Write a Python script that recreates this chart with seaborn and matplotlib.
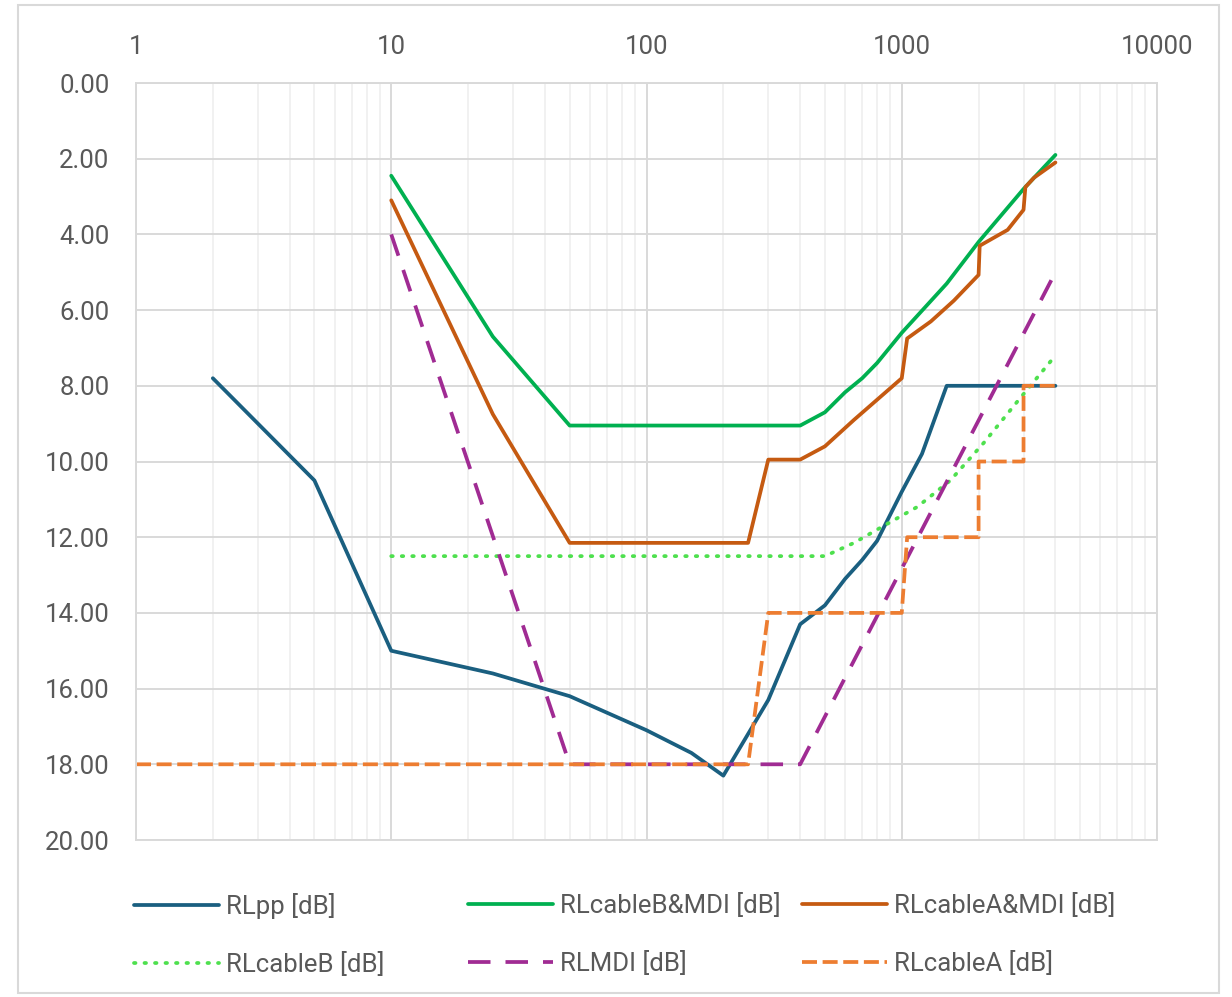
"""Return loss limits vs frequency (log x, inverted y), Excel-style."""

import matplotlib
matplotlib.use("Agg")
import matplotlib.pyplot as plt
import matplotlib.ticker as mticker
from matplotlib.patches import Rectangle
import pandas as pd
import seaborn as sns

sns.set_theme(style="white")
plt.rcParams["font.family"] = ["Roboto", "DejaVu Sans"]

# --- data ------------------------------------------------------------------
rlpp_x = [2, 5, 10, 25, 50, 100, 150, 200, 300, 400, 500, 600, 700, 800, 1000, 1200, 1500, 2000, 3000, 4000]
rlpp_y = [7.8, 10.5, 15.0, 15.6, 16.2, 17.1, 17.7, 18.3, 16.3, 14.3, 13.8, 13.1, 12.6, 12.1, 10.8, 9.8, 8.0, 8.0, 8.0, 8.0]

cbmdi_x = [10, 25, 50, 400, 500, 600, 700, 800, 1000, 1500, 2000, 3000, 4000]
cbmdi_y = [2.45, 6.7, 9.05, 9.05, 8.7, 8.17, 7.8, 7.4, 6.6, 5.3, 4.2, 2.8, 1.9]

camdi_x = [10, 25, 50, 250, 300, 400, 500, 650, 800, 1000, 1050, 1300, 1600, 2000, 2020, 2600, 3000, 3050, 3300, 4000]
camdi_y = [3.1, 8.75, 12.15, 12.15, 9.95, 9.95, 9.6, 8.9, 8.37, 7.8, 6.75, 6.3, 5.75, 5.07, 4.3, 3.88, 3.35, 2.75, 2.5, 2.1]

cb_x = [10, 500, 650, 850, 1150, 1550, 2100, 2850, 4000]
cb_y = [12.5, 12.5, 12.15, 11.7, 11.2, 10.5, 9.5, 8.4, 7.2]

mdi_x = [10, 50, 400, 4000]
mdi_y = [4.0, 18.0, 18.0, 5.0]

ca_x = [1, 250, 300, 1000, 1050, 2000, 2000, 3000, 3000, 4000]
ca_y = [18, 18, 14, 14, 12, 12, 10, 10, 8, 8]

series = [
    ("RLpp [dB]", rlpp_x, rlpp_y, "#1a5f80", "-"),
    ("RLcableB&MDI [dB]", cbmdi_x, cbmdi_y, "#00b050", "-"),
    ("RLcableA&MDI [dB]", camdi_x, camdi_y, "#c55a11", "-"),
    ("RLcableB [dB]", cb_x, cb_y, "#4ee04e", (0, (0.4, 2.4))),
    ("RLMDI [dB]", mdi_x, mdi_y, "#a02b93", (0, (6, 4))),
    ("RLcableA [dB]", ca_x, ca_y, "#ed7d31", (0, (4, 1.5))),
]

text_c = "#595959"
grid_c = "#d9d9d9"
fs = 18.5

fig = plt.figure(figsize=(12.32, 9.97), dpi=100)
ax = fig.add_axes([136 / 1232, 1 - 840 / 997, (1157 - 136) / 1232, (840 - 83) / 997])

for name, xs, ys, col, ls in series:
    df = pd.DataFrame({"f": xs, "rl": ys})
    sns.lineplot(data=df, x="f", y="rl", ax=ax, sort=False, estimator=None,
                 color=col, linewidth=2.7, linestyle=ls, label=name,
                 dash_capstyle="round" if name == "RLcableB [dB]" else "butt")

ax.set_xscale("log")
ax.set_xlim(1, 10000)
ax.set_ylim(20, 0)
ax.set_xlabel("")
ax.set_ylabel("")

ax.xaxis.tick_top()
ax.xaxis.set_major_locator(mticker.LogLocator(base=10, numticks=10))
ax.xaxis.set_major_formatter(mticker.FuncFormatter(lambda v, _: f"{v:g}"))
ax.xaxis.set_minor_locator(mticker.LogLocator(base=10, subs=range(2, 10), numticks=20))
ax.xaxis.set_minor_formatter(mticker.NullFormatter())
ax.yaxis.set_major_locator(mticker.MultipleLocator(2))
ax.yaxis.set_major_formatter(mticker.FormatStrFormatter("%.2f"))

ax.tick_params(axis="both", which="both", length=0, labelsize=fs, colors=text_c)
ax.tick_params(axis="x", pad=17)
ax.tick_params(axis="y", pad=19)

ax.grid(which="major", color=grid_c, linewidth=1.4)
ax.grid(which="minor", axis="x", color="#efefef", linewidth=1.2)
ax.set_axisbelow(True)
for s in ax.spines.values():
    s.set_color(grid_c)
    s.set_linewidth(1.4)

handles, labels = ax.get_legend_handles_labels()
ax.get_legend().remove()

# Excel lays out legend columns at fixed widths, so one legend per column
col_x = [134, 468, 802]
for i, cx in enumerate(col_x):
    hs = [handles[i], handles[i + 3]]
    ls_ = [labels[i], labels[i + 3]]
    leg = fig.legend(hs, ls_, loc="upper left", bbox_to_anchor=(cx / 1232, 1 - 893 / 997),
                     frameon=False, fontsize=fs, handlelength=3.3, handletextpad=0.3,
                     labelspacing=1.3, borderaxespad=0, borderpad=0)
    for t in leg.get_texts():
        t.set_color(text_c)

fig.patches.append(Rectangle((18 / 1232, 4 / 997), (1219 - 18) / 1232, (993 - 5) / 997,
                             transform=fig.transFigure, fill=False,
                             edgecolor=grid_c, linewidth=1.5))

fig.savefig("out.png", dpi=100)
